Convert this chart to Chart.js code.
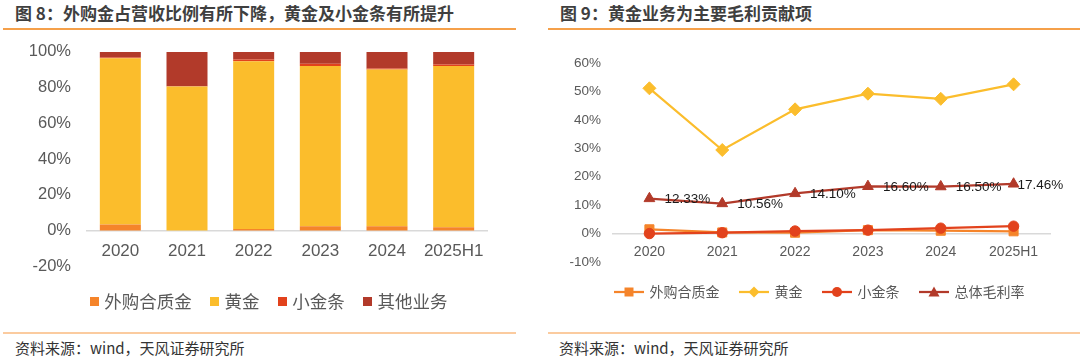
<!DOCTYPE html>
<html><head><meta charset="utf-8">
<script src="https://cdn.jsdelivr.net/npm/chart.js@4.4.0/dist/chart.umd.min.js"></script>
<style>
body{margin:0;width:1080px;height:357px;background:#fff;position:relative;overflow:hidden;font-family:'Noto Sans CJK SC',sans-serif;}
.t{position:absolute;top:3px;font-size:17px;font-weight:bold;color:#3f3f3f;white-space:nowrap;line-height:20px}
.rule{position:absolute;top:28px;height:1.5px;background:#F5A04A}
.rule2{position:absolute;top:332px;height:1.5px;background:#FBCB9F}
.src{position:absolute;top:339px;font-size:15px;color:#333;line-height:18px;white-space:nowrap}
.box{position:absolute}
</style></head><body>
<div class="t" style="left:15px">图 8：外购金占营收比例有所下降，黄金及小金条有所提升</div>
<div class="t" style="left:560px">图 9：黄金业务为主要毛利贡献项</div>
<div class="rule" style="left:3px;width:513px"></div>
<div class="rule" style="left:548px;width:532px"></div>
<div class="box" style="left:0;top:26px;width:520px;height:300px"><canvas id="c1"></canvas></div>
<div class="box" style="left:540px;top:36px;width:540px;height:290px"><canvas id="c2"></canvas></div>
<div class="rule2" style="left:3px;width:513px"></div>
<div class="rule2" style="left:548px;width:532px"></div>
<div class="src" style="left:15px">资料来源：wind，天风证券研究所</div>
<div class="src" style="left:559px">资料来源：wind，天风证券研究所</div>
<script>
// ---- data ----
const categories = ['2020','2021','2022','2023','2024','2025H1'];
const barSeriesNames = ['外购合质金','黄金','小金条','其他业务'];
const revPurchased = [3.4,0.1,0.9,2.4,2.4,1.9];
const revGold      = [93.0,80.6,93.8,89.7,87.7,90.2];
const revSmallBar  = [0.4,0.1,1.0,1.3,0.6,0.8];
const revOther     = [3.2,19.2,4.3,6.6,9.3,7.1];
const leftTicks = [-20,0,20,40,60,80,100];

const lineSeriesNames = ['外购合质金','黄金','小金条','总体毛利率'];
const gmPurchased = [1.5,0.4,0.3,1.2,1.0,0.8];
const gmGold      = [51.1,29.4,43.7,49.2,47.4,52.5];
const gmSmallBar  = [0.0,0.3,0.9,1.2,1.9,2.6];
const gmTotal     = [12.33,10.56,14.10,16.60,16.50,17.46];
const rightTicks = [-10,0,10,20,30,40,50,60];

// ---- styles ----
const C_ORANGE='#F5842A', C_GOLD='#FBBD2C', C_RED='#E2421C', C_DARK='#B23A2A';
const NUM_FONT = "'Liberation Sans', Arial, sans-serif";
const CJK_FONT = "'Noto Sans CJK SC', sans-serif";
const GRAY = '#595959';

function squareImg(color){
  const c=document.createElement('canvas'); c.width=9; c.height=9;
  const x=c.getContext('2d'); x.fillStyle=color; x.fillRect(0,0,9,9); return c;
}
function lineImg(color, shape){
  const c=document.createElement('canvas'); c.width=30; c.height=14;
  const x=c.getContext('2d'); x.strokeStyle=color; x.lineWidth=2.25;
  x.beginPath(); x.moveTo(0,7); x.lineTo(30,7); x.stroke();
  x.fillStyle=color; x.beginPath();
  if(shape==='rect'){ x.rect(10.5,2.5,9,9); }
  else if(shape==='rectRot'){ x.moveTo(15,1.5); x.lineTo(20.5,7); x.lineTo(15,12.5); x.lineTo(9.5,7); x.closePath(); }
  else if(shape==='circle'){ x.arc(15,7,5,0,Math.PI*2); }
  else { x.moveTo(15,1.5); x.lineTo(20.5,11.5); x.lineTo(9.5,11.5); x.closePath(); }
  x.fill(); return c;
}

const legendShift = {id:'legendShift', afterLayout(chart, args, opts){
  const l = chart.legend; if(l && opts.dx){ l.left += opts.dx; l.right += opts.dx; }
}};
const totalLabels = {id:'totalLabels', afterDatasetsDraw(chart, args, opts){
  if(opts.datasetIndex === undefined) return;
  const idx = opts.datasetIndex, meta = chart.getDatasetMeta(idx), ctx = chart.ctx;
  const vals = chart.data.datasets[idx].data;
  ctx.save(); ctx.font = opts.font; ctx.fillStyle = opts.color;
  ctx.textAlign='left'; ctx.textBaseline='middle';
  meta.data.forEach((pt,i)=>{
    const dx = i===meta.data.length-1 ? opts.lastOffset : opts.offset;
    ctx.fillText(vals[i].toFixed(2)+'%', pt.x+dx, pt.y+opts.dy);
  });
  ctx.restore();
}};

// ---- left: stacked bars ----
const barColors=[C_ORANGE,C_GOLD,C_RED,C_DARK];
const barData=[revPurchased,revGold,revSmallBar,revOther];
const sqImgs = barColors.map(squareImg);
new Chart(document.getElementById('c1'),{
  type:'bar',
  data:{labels:categories, datasets:barSeriesNames.map((n,i)=>({
    label:n, data:barData[i], backgroundColor:barColors[i], borderWidth:0,
    barPercentage:0.615, categoryPercentage:1
  }))},
  options:{
    responsive:true, maintainAspectRatio:false, animation:false,
    layout:{padding:{left:0,right:33,top:0,bottom:6}},
    scales:{
      x:{stacked:true, position:{y:0},
        grid:{display:false, drawTicks:false},
        border:{display:true,color:'#D9D9D9',width:1.5},
        ticks:{color:GRAY,font:{family:NUM_FONT,size:17},padding:11,maxRotation:0}},
      y:{stacked:true, min:-20, max:100,
        afterBuildTicks(s){ s.ticks = leftTicks.map(v=>({value:v})); },
        afterFit(s){ s.width = 87; },
        grid:{display:false, drawTicks:false}, border:{display:false},
        ticks:{color:GRAY,font:{family:NUM_FONT,size:16.5},padding:16,callback:v=>v+'%'}}
    },
    plugins:{
      tooltip:{enabled:false},
      legendShift:{dx:27},
      legend:{position:'bottom',
        title:{display:true,text:'',font:{size:1},padding:{top:3,bottom:0}},
        labels:{usePointStyle:true,pointStyleWidth:2,boxHeight:17.5,padding:22,color:GRAY,
          font:{family:CJK_FONT,size:17.5},
          generateLabels:(ch)=>ch.data.datasets.map((d,i)=>({text:d.label,pointStyle:sqImgs[i],
            fillStyle:'transparent',strokeStyle:'transparent',lineWidth:0,hidden:false,datasetIndex:i,fontColor:GRAY}))}}
    }
  },
  plugins:[legendShift]
});

// ---- right: lines ----
const lineColors=[C_ORANGE,C_GOLD,C_RED,C_DARK];
const lineShapes=['rect','rectRot','circle','triangle'];
const lineRadius=[6.4,6.5,5.2,6.2];
const lineData=[gmPurchased,gmGold,gmSmallBar,gmTotal];
const lineOrder=[3,1,2,0];
const lnImgs = lineColors.map((c,i)=>lineImg(c,lineShapes[i]));
new Chart(document.getElementById('c2'),{
  type:'line',
  data:{labels:categories, datasets:lineSeriesNames.map((n,i)=>({
    label:n, data:lineData[i], borderColor:lineColors[i], backgroundColor:lineColors[i],
    borderWidth:2.25, tension:0, pointStyle:lineShapes[i], pointRadius:lineRadius[i],
    pointBackgroundColor:lineColors[i], pointBorderColor:lineColors[i], pointBorderWidth:1,
    order:lineOrder[i]
  }))},
  options:{
    responsive:true, maintainAspectRatio:false, animation:false,
    layout:{padding:{left:0,right:30,top:27,bottom:17}},
    scales:{
      x:{position:{y:0}, offset:true,
        grid:{display:false, drawTicks:false, offset:true},
        border:{display:true,color:'#D9D9D9',width:1.5},
        ticks:{color:GRAY,font:{family:NUM_FONT,size:14},padding:10,maxRotation:0}},
      y:{min:-10, max:60,
        afterBuildTicks(s){ s.ticks = rightTicks.map(v=>({value:v})); },
        afterFit(s){ s.width = 73; },
        grid:{display:false, drawTicks:false}, border:{display:false},
        ticks:{color:GRAY,font:{family:NUM_FONT,size:13.5},padding:12,callback:v=>v+'%'}}
    },
    plugins:{
      tooltip:{enabled:false},
      legendShift:{dx:25},
      totalLabels:{datasetIndex:3,font:"13.5px 'Liberation Sans', Arial, sans-serif",color:'#1a1a1a',offset:15,lastOffset:4,dy:1},
      legend:{position:'bottom',
        title:{display:true,text:'',font:{size:1},padding:{top:0.8,bottom:0}},
        labels:{usePointStyle:true,pointStyleWidth:27,boxHeight:14,padding:21,color:GRAY,
          font:{family:CJK_FONT,size:14},
          generateLabels:(ch)=>ch.data.datasets.map((d,i)=>({text:d.label,pointStyle:lnImgs[i],
            fillStyle:'transparent',strokeStyle:'transparent',lineWidth:0,hidden:false,datasetIndex:i,fontColor:GRAY}))}}
    }
  },
  plugins:[legendShift,totalLabels]
});
</script>
</body></html>
